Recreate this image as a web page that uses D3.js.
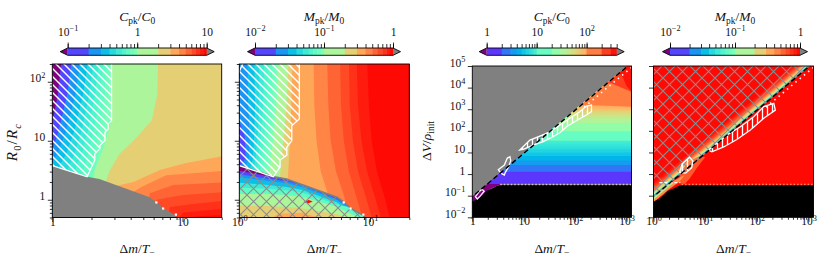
<!DOCTYPE html>
<html>
<head>
<meta charset="utf-8">
<script src="https://cdnjs.cloudflare.com/ajax/libs/d3/7.8.5/d3.min.js"></script>
<style>
  html, body { margin: 0; padding: 0; background: #fff; overflow: hidden; }
  svg { display: block; }
  text { font-family: "Liberation Serif", "DejaVu Serif", serif; fill: #111; }
</style>
</head>
<body>
<svg id="fig" width="831" height="269"></svg>
<script>
// contour levels of the colour scales
var lvC1 = [0.1, 0.2, 0.3, 0.4, 0.5, 0.6, 0.7, 0.8, 0.9, 1, 2, 3, 4, 5, 6, 7, 8, 9, 10];
var lvM = [0.01, 0.02, 0.03, 0.04, 0.05, 0.06, 0.07, 0.08, 0.09, 0.1, 0.2, 0.3, 0.4, 0.5, 0.6, 0.7, 0.8, 0.9, 1];
var lvC3 = [1, 2, 3, 4, 5, 6, 7, 8, 9, 10, 20, 30, 40, 50, 60, 70, 80, 90, 100, 200, 300, 400];

// ticks
var tk12X = [1, 10], tk12Xmin = [2, 3, 4, 5, 6, 7, 8, 9, 20];
var tk12Y = [1, 10, 100], tk12Ymin = [0.5, 0.6, 0.7, 0.8, 0.9, 2, 3, 4, 5, 6, 7, 8, 9, 20, 30, 40, 50, 60, 70, 80, 90, 200];
var tk34X = [1, 10, 100, 1000], tk34Xmin = [2, 3, 4, 5, 6, 7, 8, 9, 20, 30, 40, 50, 60, 70, 80, 90, 200, 300, 400, 500, 600, 700, 800, 900];
var tk34Y = [0.01, 0.1, 1, 10, 100, 1e3, 1e4, 1e5];
var lab1X = ['1', '10'], lab2X = ['10^0', '10^1'], lab1Y = ['1', '10', '10^2'];
var lab3X = ['1', '10', '10^2', '10^3'], lab4X = ['10^0', '10^1', '10^2', '10^3'];
var lab3Y = ['10^\u22122', '10^\u22121', '1', '10', '10^2', '10^3', '10^4', '10^5'];
var cbTk1 = [0.1, 1, 10], cbLab1 = ['10^\u22121', '1', '10'];
var cbTkM = [0.01, 0.1, 1], cbLabM = ['10^\u22122', '10^\u22121', '1'];
var cbTk3 = [1, 10, 100], cbLab3 = ['1', '10', '10^2'];

// panel 1: C_pk/C_0 level curves [level, curve]; the level is exceeded right of / below the curve
var p1Curves = [
  [0.1, [[1.18, 250], [1.1, 60], [1.0, 20], [0.9, 10], [0.9, 0.4]]],
  [0.2, [[1.42, 250], [1.3, 60], [1.12, 15], [1.0, 7], [0.9, 5], [0.9, 0.4]]],
  [0.3, [[1.65, 250], [1.5, 60], [1.28, 15], [1.1, 6], [1.0, 4.5], [0.9, 4], [0.9, 0.4]]],
  [0.4, [[1.9, 250], [1.72, 60], [1.48, 15], [1.28, 6], [1.12, 3.6], [1.1, 0.4]]],
  [0.5, [[2.1, 250], [1.92, 60], [1.68, 15], [1.48, 6], [1.32, 3.4], [1.3, 0.4]]],
  [0.6, [[2.3, 250], [2.12, 60], [1.88, 15], [1.68, 6], [1.5, 3.2], [1.5, 0.4]]],
  [0.7, [[2.48, 250], [2.32, 60], [2.08, 15], [1.88, 6], [1.7, 2.9], [1.7, 0.4]]],
  [0.8, [[2.64, 250], [2.52, 60], [2.3, 15], [2.08, 6], [1.9, 2.6], [1.9, 0.4]]],
  [0.9, [[2.78, 250], [2.7, 60], [2.5, 15], [2.28, 6], [2.05, 2.5], [2.05, 0.4]]],
  [1, [[2.88, 250], [2.86, 22], [2.7, 15], [2.5, 8], [2.3, 5], [2.1, 3], [2.1, 0.4]]],
  [2, [[6.5, 250], [6.4, 60], [5.8, 22], [4.2, 10], [3.3, 6.1], [2.77, 3.2], [2.6, 2.16], [2.5, 0.4]]],
  [3, [[25, 6.0], [10.7, 4.2], [6.7, 3.2], [4.2, 2.0], [3.0, 1.7], [2.8, 0.4]]],
  [4, [[25, 3.2], [7.5, 2.6], [4.7, 1.59], [4.2, 1.35], [4, 0.4]]],
  [5, [[25, 2.0], [8.5, 1.78], [5.6, 1.29], [5.3, 0.4]]],
  [6, [[25, 1.38], [10, 1.2], [6.3, 1.0], [6, 0.4]]],
  [7, [[25, 1.0], [12, 0.85], [8, 0.75], [7.5, 0.4]]],
  [8, [[25, 0.73], [14, 0.65], [10, 0.6], [9, 0.4]]],
  [9, [[25, 0.56], [14, 0.53], [11, 0.5], [10.5, 0.4]]]
];
// lower edge shared by panels 1 and 2 (no solution below it)
var p12Edge = [[0.9, 3.85], [1, 3.8], [1.85, 2.45], [2.3, 2.25], [5.6, 1.1], [6.3, 0.92], [7.1, 0.72], [8.8, 0.55], [9.4, 0.45], [9.5, 0.4]];
var p12Dots = [[6.3, 0.9], [7.1, 0.71], [8.9, 0.56]];
var p1Hatch = [[0.9, 250], [2.85, 250], [2.85, 21.9], [2.69, 19.3], [2.69, 15.9], [2.54, 13.9], [2.54, 10.1], [2.32, 8.3],
  [2.32, 7.3], [2.12, 6.0], [2.12, 4.7], [1.85, 2.45], [1, 3.8], [0.9, 3.85]];

// panel 2: M_pk/M_0 level curves
var p2Curves = [
  [0.01, [[0.9, 250], [0.9, 0.4]]],
  [0.02, [[0.9, 250], [0.9, 40], [1.1, 12], [1.12, 5], [1.0, 3.5], [0.9, 3.5], [0.9, 0.4]]],
  [0.03, [[1.15, 250], [1.17, 40], [1.2, 12], [1.18, 5], [1.1, 3.3], [1.1, 0.4]]],
  [0.04, [[1.3, 250], [1.32, 40], [1.3, 12], [1.27, 5], [1.2, 3.2], [1.2, 0.4]]],
  [0.05, [[1.42, 250], [1.42, 40], [1.38, 12], [1.33, 5], [1.28, 3.1], [1.28, 0.4]]],
  [0.06, [[1.55, 250], [1.52, 40], [1.46, 12], [1.4, 5], [1.36, 3], [1.36, 0.4]]],
  [0.07, [[1.67, 250], [1.62, 40], [1.55, 12], [1.48, 5], [1.44, 2.9], [1.44, 0.4]]],
  [0.08, [[1.8, 250], [1.73, 40], [1.64, 12], [1.56, 5], [1.52, 2.8], [1.52, 0.4]]],
  [0.09, [[1.9, 250], [1.83, 40], [1.73, 12], [1.65, 5], [1.6, 2.7], [1.6, 0.4]]],
  [0.1, [[2.0, 250], [1.93, 40], [1.83, 12], [1.75, 5], [1.7, 2.6], [1.7, 0.4]]],
  [0.2, [[2.38, 250], [2.3, 40], [2.2, 12], [2.1, 5], [2.05, 2.4], [2.05, 0.4]]],
  [0.3, [[2.55, 250], [2.5, 40], [2.45, 12], [2.4, 5], [2.35, 2.3], [2.35, 0.4]]],
  [0.4, [[3.7, 250], [3.75, 40], [3.9, 10], [4.2, 3], [4.8, 1.2], [5.5, 0.4]]],
  [0.5, [[4.7, 250], [4.8, 40], [5.0, 10], [5.5, 3], [6.3, 1.2], [7.2, 0.4]]],
  [0.6, [[5.9, 250], [6.0, 40], [6.3, 10], [6.9, 3], [7.8, 1.2], [9, 0.4]]],
  [0.7, [[6.9, 250], [7.0, 40], [7.4, 10], [8.1, 3], [9.2, 1.2], [10.6, 0.4]]],
  [0.8, [[7.9, 250], [8.1, 40], [8.6, 10], [9.5, 3], [10.8, 1.2], [12.5, 0.4]]],
  [0.9, [[9.5, 250], [9.8, 40], [10.3, 10], [11.3, 3], [12.8, 1.2], [14.5, 0.4]]]
];
// below the edge (cross-hatched): level exceeded below the curve
var p2Low = [
  [0.01, [[0.9, 3.15], [1, 3.1], [1.6, 2.55], [2.2, 2.3], [2.4, 2.3], [5.6, 1.15], [9.5, 0.55], [25, 0.5]]],
  [0.02, [[0.9, 2.75], [1, 2.7], [1.6, 2.3], [2.3, 2.05], [3, 1.78], [5.6, 1.03], [9.5, 0.47], [25, 0.45]]],
  [0.03, [[0.9, 2.45], [1, 2.4], [1.6, 2.1], [2.3, 1.9], [3, 1.65], [5.6, 0.98], [9.5, 0.46], [25, 0.42]]],
  [0.05, [[0.9, 2.0], [1, 1.95], [1.6, 1.8], [2.3, 1.65], [3, 1.48], [5.6, 0.9], [9.5, 0.44], [25, 0.41]]],
  [0.07, [[0.9, 1.6], [1.6, 1.55], [2.3, 1.45], [3, 1.33], [5.6, 0.83], [25, 0.41]]],
  [0.1, [[0.9, 1.25], [1.6, 1.25], [2.3, 1.2], [3, 1.12], [5.6, 0.75], [9, 0.45]]],
  [0.2, [[0.9, 0.8], [1.6, 0.78], [2.3, 0.75], [3, 0.72], [5.6, 0.57], [8, 0.42]]],
  [0.3, [[1.5, 0.4], [2, 0.58], [3, 0.6], [3.8, 0.52], [4.3, 0.4]]]
];
var p2Spots = [[0.9, [[3.1, 0.92], [3.4, 0.99], [3.65, 0.93], [3.35, 0.86]]]];
var p2Hatch = [[0.9, 160], [1.0, 150], [1.06, 200], [1.08, 250], [2.88, 250], [2.88, 23.3], [2.52, 18], [2.52, 10], [2.31, 7.8],
  [2.31, 5.7], [2.05, 4.7], [2.05, 3.6], [1.82, 2.45], [1, 3.8], [0.9, 3.85]];

// panels 3 and 4: upper edge of the solution region, along the dashed line
var p34Edge = [[0.5, 0.024], [1, 0.095], [2, 0.38], [5, 2.4], [10, 9.5], [20, 38], [50, 240], [100, 950], [200, 3800],
  [500, 24000], [1000, 95000], [2000, 3.8e5]];
var p3Lower = [[2000, 0.33], [3.5, 0.33], [2.2, 0.2], [1.6, 0.1], [1.2, 0.06], [1, 0.045], [0.5, 0.012]];
var p34Black = [[0.5, 0.003], [0.5, 0.05], [1, 0.052], [1.3, 0.075], [1.6, 0.11], [1.9, 0.17], [2.5, 0.22], [3, 0.28],
  [3.5, 0.31], [2000, 0.31], [2000, 0.003]];
var p34Dash = [[0.5, 0.0225], [2000, 3.6e5]];
// panel 3: C_pk/C_0 grows with ΔV; level exceeded above the curve
var p3Curves = [
  [1, [[0.5, 0.35], [2000, 0.35]]],
  [2, [[0.5, 1.28], [2000, 1.28]]],
  [3, [[0.5, 2.6], [2000, 2.6]]],
  [4, [[0.5, 4.3], [2000, 4.3]]],
  [5, [[0.5, 6.8], [2000, 6.8]]],
  [6, [[0.5, 10], [2000, 10]]],
  [7, [[0.5, 14], [2000, 14]]],
  [8, [[0.5, 19], [2000, 19]]],
  [9, [[0.5, 26], [2000, 26]]],
  [10, [[0.5, 35], [2000, 35]]],
  [20, [[0.5, 95], [2000, 95]]],
  [30, [[0.5, 230], [2000, 230]]],
  [40, [[0.5, 380], [2000, 370]]],
  [50, [[0.5, 560], [2000, 540]]],
  [60, [[0.5, 750], [2000, 700]]],
  [70, [[0.5, 950], [2000, 850]]],
  [80, [[0.5, 1150], [2000, 1000]]],
  [90, [[0.5, 1350], [2000, 1150]]],
  [100, [[0.5, 1550], [300, 1500], [2000, 1250]]],
  [200, [[0.5, 1.6e4], [500, 1.6e4], [1000, 8000], [2000, 4000]]],
  [300, [[0.5, 5e4], [700, 5e4], [850, 3e4], [1000, 1.2e4], [1250, 6500], [2000, 6000]]]
];
var p3Hatch = [[8.4, 12.9], [13.2, 37.5], [20.6, 57.5], [32.3, 91], [50.6, 186], [79, 380], [123, 768], [166, 1410], [208, 1550],
  [208, 768], [166, 537], [106, 296], [68, 155], [50.6, 81], [35, 50], [24, 31.6], [15.3, 22], [9.8, 13.8]];
var p3Arrow = [[3.2, 1.6], [4.2, 2.6], [4.8, 5.5], [5.4, 6.3], [5.6, 4.2], [5.1, 2.2], [4.4, 1.2], [4.2, 0.9], [3.6, 1.1]];
var p3Small = [[1.15, 0.09], [1.35, 0.15], [1.55, 0.2], [1.7, 0.16], [1.45, 0.1], [1.25, 0.07]];
var p34Floor = [[3.5, 0.33], [2000, 0.33]];
var p34EdgeDots = [[150, 1250], [300, 5000], [600, 20000], [1250, 85000]];

// panel 4: M_pk/M_0 is below the level between the curve and the edge (upper side)
var p4Strips = [
  [0.8, [[0.5, 0.096], [2000, 1.52e6]]],
  [0.7, [[0.5, 0.077], [2000, 1.22e6]]],
  [0.6, [[0.5, 0.065], [2000, 1.03e6]]],
  [0.5, [[0.5, 0.055], [2000, 8.7e5]]],
  [0.4, [[0.5, 0.048], [2000, 7.6e5]]],
  [0.3, [[0.5, 0.042], [2000, 6.65e5]]],
  [0.2, [[0.5, 0.037], [2000, 5.9e5]]],
  [0.1, [[0.5, 0.032], [2000, 5.1e5]]],
  [0.05, [[0.5, 0.028], [2000, 4.5e5]]],
  [0.03, [[0.5, 0.026], [2000, 4.1e5]]]
];
var p4Glow = [
  [0.5, [[3, 0.4], [3.5, 1.5], [5, 4], [8, 7], [10, 6], [7, 2], [5, 0.6], [4, 0.35]]],
  [0.3, [[0.5, 0.012], [1, 0.05], [2, 0.2], [3.2, 0.45], [4, 0.9], [2, 0.38], [1, 0.095], [0.5, 0.024]]],
  [0.1, [[0.5, 0.016], [1, 0.065], [2, 0.26], [2.5, 0.4], [2, 0.36], [1, 0.09], [0.5, 0.023]]]
];
var p4Hatch = [[11.6, 12.9], [26.5, 64], [48, 155], [87, 450], [136, 1320], [213, 1860], [228, 910], [136, 380], [75, 110],
  [41, 40], [22.8, 18], [13.5, 10.7]];
var p4Arrow = [[3.2, 1.2], [3.6, 3], [5, 6], [5.8, 4], [5.5, 2], [4.2, 1.1]];
var p4Dash = [[1.3, 0.4], [3.3, 0.4]];

// math labels
var titleC = [['C', 'i'], ['pk', 'sb'], ['/', 'r'], ['C', 'i'], ['0', 'sb']];
var titleM = [['M', 'i'], ['pk', 'sb'], ['/', 'r'], ['M', 'i'], ['0', 'sb']];
var labDm = [['\u0394', 'r'], ['m', 'i'], ['/', 'r'], ['T', 'i'], ['\u2212', 'sb']];
var labR = [['R', 'i'], ['0', 'sb'], ['/', 'r'], ['R', 'i'], ['c', 'si']];
var labV = [['\u0394', 'r'], ['V', 'i'], ['/', 'r'], ['\u03c1', 'i'], ['init', 'sb']];

var UNDER = '#800080', OVER = '#808080';
var FS_TICK = 11.5, FS_LAB = 13.5;
var P = [
  { x0: 52.3, x1: 221.7, y0: 64, y1: 217.5, xd: [1, 20], yd: [0.5, 200] },
  { x0: 239.3, x1: 409.3, y0: 64, y1: 217.5, xd: [1, 20], yd: [0.5, 200] },
  { x0: 472.3, x1: 631.5, y0: 66, y1: 217.3, xd: [1, 1250], yd: [0.01, 1e5] },
  { x0: 653.5, x1: 813.5, y0: 66, y1: 217.3, xd: [1, 1250], yd: [0.01, 1e5] }
];
var B12 = { X0: 0.9, X1: 25, Y0: 0.4, Y1: 250 }, B34 = { X0: 0.5, X1: 2000, Y0: 0.003, Y1: 3e6 };

var svg = d3.select('#fig');
var defs = svg.append('defs');

function rainbow(t) {
  t = Math.max(0, Math.min(1, t));
  var r = Math.min(1, Math.abs(2 * t - 0.5)), g = Math.sin(Math.PI * t), b = Math.cos(Math.PI * t / 2);
  return d3.rgb(r * 255, g * 255, b * 255).formatHex();
}
function bandColor(lo, lv) {
  if (lo < lv[0]) return UNDER;
  var i = lv.indexOf(lo);
  if (i < 0 || i >= lv.length - 1) return OVER;
  var mid = (lv[i] + lv[i + 1]) / 2;
  return rainbow(Math.log(mid / lv[0]) / Math.log(lv[lv.length - 1] / lv[0]));
}
function closeRight(c, b) { return c.concat([[b.X1, b.Y0], [b.X1, b.Y1]]); }
function closeDown(c, b) { return c.concat([[b.X1, b.Y0], [b.X0, b.Y0]]); }
function closeUp(c, b) { return c.concat([[b.X1, b.Y1], [b.X0, b.Y1]]); }

function parseTick(s) {
  var k = s.indexOf('^');
  return k < 0 ? [[s, 'r']] : [[s.slice(0, k), 'r'], [s.slice(k + 1), 'sp']];
}
function mathText(t, parts, fs) {
  var cur = 0;
  t.text(null).attr('font-size', fs);
  parts.forEach(function (p) {
    var k = p[1], off = 0, sz = fs;
    if (k === 'sb' || k === 'si') { off = 0.24 * fs; sz = 0.7 * fs; }
    if (k === 'sp') { off = -0.4 * fs; sz = 0.72 * fs; }
    t.append('tspan').attr('dy', off - cur).attr('font-size', sz)
      .attr('font-style', (k === 'i' || k === 'si') ? 'italic' : 'normal').text(p[0]);
    cur = off;
  });
}

// patterns
function pattern(id, w, h, d, color, width) {
  defs.append('pattern').attr('id', id).attr('patternUnits', 'userSpaceOnUse')
    .attr('width', w).attr('height', h)
    .append('path').attr('d', d).attr('stroke', color).attr('stroke-width', width).attr('fill', 'none');
}
var s1 = 8;
pattern('hBack', s1, s1, 'M0,0L' + s1 + ',' + s1 + 'M' + (-s1 / 2) + ',' + (s1 / 2) + 'L' + (s1 / 2) + ',' + (1.5 * s1) +
  'M' + (s1 / 2) + ',' + (-s1 / 2) + 'L' + (1.5 * s1) + ',' + (s1 / 2), '#fff', 1.4);
pattern('hVert', 5, 5, 'M2.5,0V5', '#fff', 1.3);
pattern('hCross', 13, 13, 'M0,0L13,13M13,0L0,13', '#8c8c8c', 1.1);

function panel(i) {
  var p = P[i];
  var x = d3.scaleLog().domain(p.xd).range([p.x0, p.x1]);
  var y = d3.scaleLog().domain(p.yd).range([p.y1, p.y0]);
  defs.append('clipPath').attr('id', 'clip' + i).append('rect')
    .attr('x', p.x0).attr('y', p.y0).attr('width', p.x1 - p.x0).attr('height', p.y1 - p.y0);
  var plot = svg.append('g').attr('clip-path', 'url(#clip' + i + ')');
  var line = d3.line().x(function (d) { return x(d[0]); }).y(function (d) { return y(d[1]); });
  return { p: p, x: x, y: y, plot: plot, poly: function (pts) { return line(pts) + 'Z'; }, line: line };
}
function bands(ax, g, list, lv, close, b) {
  list.forEach(function (e) {
    g.append('path').attr('d', ax.poly(close(e[1], b))).attr('fill', bandColor(e[0], lv));
  });
}
function axes(ax, xMaj, xLab, xMin, yMaj, yLab, yMin) {
  var p = ax.p, fs = FS_TICK;
  function clean(g) { g.select('.domain').remove(); g.selectAll('line').attr('stroke-width', 0.8); }
  svg.append('g').attr('transform', 'translate(0,' + p.y1 + ')')
    .call(d3.axisBottom(ax.x).tickValues(xMin).tickSize(2.5).tickFormat('')).call(clean);
  var gx = svg.append('g').attr('transform', 'translate(0,' + p.y1 + ')')
    .call(d3.axisBottom(ax.x).tickValues(xMaj).tickSize(4.5).tickPadding(3.5).tickFormat('')).call(clean);
  gx.selectAll('.tick text').each(function (d, k) { mathText(d3.select(this), parseTick(xLab[k]), fs); });
  if (yMin) svg.append('g').attr('transform', 'translate(' + p.x0 + ',0)')
    .call(d3.axisLeft(ax.y).tickValues(yMin).tickSize(2.5).tickFormat('')).call(clean);
  var gy = svg.append('g').attr('transform', 'translate(' + p.x0 + ',0)')
    .call(d3.axisLeft(ax.y).tickValues(yMaj).tickSize(4.5).tickPadding(2.5).tickFormat('')).call(clean);
  gy.selectAll('.tick text').each(function (d, k) {
    if (yLab) mathText(d3.select(this), parseTick(yLab[k]), fs); else d3.select(this).remove();
  });
  svg.append('rect').attr('x', p.x0).attr('y', p.y0).attr('width', p.x1 - p.x0).attr('height', p.y1 - p.y0)
    .attr('fill', 'none').attr('stroke', '#000').attr('stroke-width', 0.9);
  mathText(svg.append('text').attr('x', (p.x0 + p.x1) / 2).attr('y', 253).attr('text-anchor', 'middle'), labDm, FS_LAB);
}
function colorbar(cx0, cx1, lv, majors, labels, title) {
  var s = d3.scaleLog().domain([lv[0], lv[lv.length - 1]]).range([cx0, cx1]);
  var top = 48, bot = 55.3, mid = (top + bot) / 2, ext = 7.5;
  var g = svg.append('g');
  lv.slice(0, -1).forEach(function (v, k) {
    g.append('rect').attr('x', s(v)).attr('y', top).attr('width', s(lv[k + 1]) - s(v) + 0.4).attr('height', bot - top)
      .attr('fill', bandColor(v, lv));
  });
  g.append('path').attr('d', 'M' + cx0 + ',' + top + 'L' + (cx0 - ext) + ',' + mid + 'L' + cx0 + ',' + bot + 'Z').attr('fill', UNDER);
  g.append('path').attr('d', 'M' + cx1 + ',' + top + 'L' + (cx1 + ext) + ',' + mid + 'L' + cx1 + ',' + bot + 'Z').attr('fill', OVER);
  g.append('path').attr('d', 'M' + cx0 + ',' + top + 'H' + cx1 + 'L' + (cx1 + ext) + ',' + mid + 'L' + cx1 + ',' + bot +
    'H' + cx0 + 'L' + (cx0 - ext) + ',' + mid + 'Z').attr('fill', 'none').attr('stroke', '#000').attr('stroke-width', 0.9);
  function clean(a) { a.select('.domain').remove(); a.selectAll('line').attr('stroke-width', 0.8); }
  svg.append('g').attr('transform', 'translate(0,' + top + ')')
    .call(d3.axisTop(s).tickValues(lv).tickSize(4).tickFormat('')).call(clean);
  var ga = svg.append('g').attr('transform', 'translate(0,' + top + ')')
    .call(d3.axisTop(s).tickValues(majors).tickSize(5.5).tickPadding(6.5).tickFormat('')).call(clean);
  ga.selectAll('.tick text').each(function (d, k) { mathText(d3.select(this), parseTick(labels[k]), FS_TICK); });
  mathText(svg.append('text').attr('x', (cx0 + cx1) / 2).attr('y', 21).attr('text-anchor', 'middle'), title, FS_LAB);
}

// ---------- panel 1
var a1 = panel(0);
a1.plot.append('path').attr('d', a1.poly(closeRight([[0.9, 250], [0.9, 0.4]], B12))).attr('fill', UNDER);
bands(a1, a1.plot, p1Curves, lvC1, closeRight, B12);
a1.plot.append('path').attr('d', a1.poly(p12Edge.concat([[0.9, 0.4]]))).attr('fill', OVER);
a1.plot.append('path').attr('d', a1.poly(p1Hatch)).attr('fill', 'url(#hBack)').attr('stroke', '#fff').attr('stroke-width', 1.3);
a1.plot.selectAll('.dot').data(p12Dots).enter().append('rect')
  .attr('x', function (d) { return a1.x(d[0]) - 1.1; }).attr('y', function (d) { return a1.y(d[1]) - 1.1; })
  .attr('width', 2.2).attr('height', 2.2).attr('fill', '#fff');
axes(a1, tk12X, lab1X, tk12Xmin, tk12Y, lab1Y, tk12Ymin);

// ---------- panel 2
var a2 = panel(1);
a2.plot.append('path').attr('d', a2.poly(closeRight([[0.9, 250], [0.9, 0.4]], B12))).attr('fill', UNDER);
bands(a2, a2.plot, p2Curves, lvM, closeRight, B12);
defs.append('clipPath').attr('id', 'cross2').append('path').attr('d', a2.poly(p12Edge.concat([[0.9, 0.4]])));
var low2 = a2.plot.append('g').attr('clip-path', 'url(#cross2)');
low2.append('path').attr('d', a2.poly(p12Edge.concat([[0.9, 0.4]]))).attr('fill', UNDER);
bands(a2, low2, p2Low, lvM, closeDown, B12);
p2Spots.forEach(function (e) { low2.append('path').attr('d', a2.poly(e[1])).attr('fill', bandColor(e[0], lvM)); });
low2.append('path').attr('d', a2.poly(p12Edge.concat([[0.9, 0.4]]))).attr('fill', 'url(#hCross)');
a2.plot.append('path').attr('d', a2.line(p12Edge)).attr('fill', 'none').attr('stroke', '#808080').attr('stroke-width', 1.6);
a2.plot.append('path').attr('d', a2.poly(p2Hatch)).attr('fill', 'url(#hBack)').attr('stroke', '#fff').attr('stroke-width', 1.3);
a2.plot.selectAll('.dot').data(p12Dots).enter().append('rect')
  .attr('x', function (d) { return a2.x(d[0]) - 1.1; }).attr('y', function (d) { return a2.y(d[1]) - 1.1; })
  .attr('width', 2.2).attr('height', 2.2).attr('fill', '#fff');
axes(a2, tk12X, lab2X, tk12Xmin, tk12Y, null, tk12Ymin);

// ---------- panel 3
var a3 = panel(2);
a3.plot.append('rect').attr('x', 0).attr('y', 0).attr('width', 831).attr('height', 269).attr('fill', OVER);
defs.append('clipPath').attr('id', 'col3').append('path').attr('d', a3.poly(p34Edge.concat(p3Lower)));
var c3 = a3.plot.append('g').attr('clip-path', 'url(#col3)');
c3.append('path').attr('d', a3.poly(p34Edge.concat(p3Lower))).attr('fill', UNDER);
bands(a3, c3, p3Curves, lvC3, closeUp, B34);
a3.plot.append('path').attr('d', a3.poly(p34Black)).attr('fill', '#000');
a3.plot.append('path').attr('d', a3.poly(p3Hatch)).attr('fill', 'url(#hVert)').attr('stroke', '#fff').attr('stroke-width', 1.3);
[p3Arrow, p3Small].forEach(function (s) {
  a3.plot.append('path').attr('d', a3.poly(s)).attr('fill', 'none').attr('stroke', '#fff').attr('stroke-width', 1.3);
});
a3.plot.append('path').attr('d', a3.line(p34Floor)).attr('stroke', '#c8c8c8').attr('stroke-width', 1.3).attr('stroke-dasharray', '1.5,2');
a3.plot.append('path').attr('d', a3.line(p34EdgeDots)).attr('fill', 'none').attr('stroke', '#fff').attr('stroke-width', 1.6).attr('stroke-dasharray', '1.5,4');
a3.plot.append('path').attr('d', a3.line(p34Dash)).attr('stroke', '#000').attr('stroke-width', 1.4).attr('stroke-dasharray', '5,3');
axes(a3, tk34X, lab3X, tk34Xmin, tk34Y, lab3Y, null);

// ---------- panel 4
var a4 = panel(3);
a4.plot.append('rect').attr('x', 0).attr('y', 0).attr('width', 831).attr('height', 269).attr('fill', bandColor(0.9, lvM));
defs.append('clipPath').attr('id', 'up4').append('path').attr('d', a4.poly(closeUp(p34Edge, B34)));
var u4 = a4.plot.append('g').attr('clip-path', 'url(#up4)');
bands(a4, u4, p4Strips, lvM, closeDown, B34);
p4Glow.forEach(function (e) { a4.plot.append('path').attr('d', a4.poly(e[1])).attr('fill', bandColor(e[0], lvM)).attr('opacity', 0.85); });
u4.append('path').attr('d', a4.poly(closeUp(p34Edge, B34))).attr('fill', 'url(#hCross)');
a4.plot.append('path').attr('d', a4.line(p34Edge)).attr('fill', 'none').attr('stroke', '#8c8c8c').attr('stroke-width', 1.2);
a4.plot.append('path').attr('d', a4.poly(p34Black)).attr('fill', '#000');
a4.plot.append('path').attr('d', a4.poly(p4Hatch)).attr('fill', 'url(#hVert)').attr('stroke', '#fff').attr('stroke-width', 1.3);
a4.plot.append('path').attr('d', a4.poly(p4Arrow)).attr('fill', 'url(#hVert)').attr('stroke', '#fff').attr('stroke-width', 1.3);
a4.plot.append('path').attr('d', a4.line(p34Floor)).attr('stroke', '#ff8a5a').attr('stroke-width', 1.3).attr('stroke-dasharray', '1.5,2');
a4.plot.append('path').attr('d', a4.line(p4Dash)).attr('stroke', '#fff').attr('stroke-width', 1.3).attr('stroke-dasharray', '3,2');
a4.plot.append('path').attr('d', a4.line(p34EdgeDots)).attr('fill', 'none').attr('stroke', '#fff').attr('stroke-width', 1.6).attr('stroke-dasharray', '1.5,4');
a4.plot.append('path').attr('d', a4.line(p34Dash)).attr('stroke', '#000').attr('stroke-width', 1.4).attr('stroke-dasharray', '5,3');
axes(a4, tk34X, lab4X, tk34Xmin, tk34Y, null, null);

// y labels
mathText(svg.append('text').attr('transform', 'translate(17,142) rotate(-90)').attr('text-anchor', 'middle')
  .attr('letter-spacing', 1.2), labR, 15);
mathText(svg.append('text').attr('transform', 'translate(431,141) rotate(-90)').attr('text-anchor', 'middle'), labV, FS_LAB);

// colour bars
colorbar(67.7, 206.7, lvC1, cbTk1, cbLab1, titleC);
colorbar(255, 393, lvM, cbTkM, cbLabM, titleM);
colorbar(486.7, 616.7, lvC3, cbTk3, cbLab3, titleC);
colorbar(670, 800, lvM, cbTkM, cbLabM, titleM);
</script>
</body>
</html>
